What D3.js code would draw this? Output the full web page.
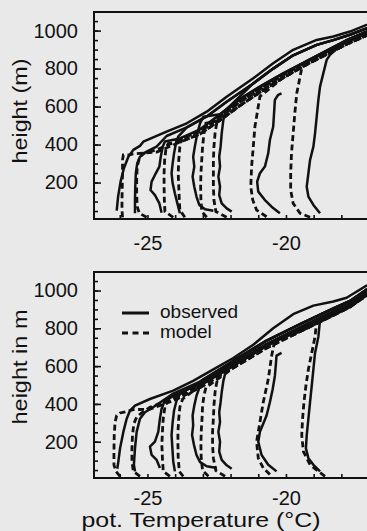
<!DOCTYPE html>
<html>
<head>
<meta charset="utf-8">
<script src="https://d3js.org/d3.v7.min.js"></script>
<style>
body { margin: 0; background: #e9e9e9; }
svg { display: block; }
text { font-family: "Liberation Sans", Arial, sans-serif; fill: #111; }
</style>
</head>
<body>
<script>
var width = 367;
var height = 531;

// axis ticks
var tempTicks = [-26, -25, -24, -23, -22, -21, -20, -19, -18, -17];
var tempLabels = [-25, -20];
var heightTicks = [50, 100, 150, 200, 250, 300, 350, 400, 450, 500, 550, 600, 650, 700, 750, 800, 850, 900, 950, 1000, 1050];
var heightLabels = [200, 400, 600, 800, 1000];

// upper panel: [pot. temperature (degC), height (m)], mixed layer part of each profile
var topObs = [
    [[-26.11,52],[-26.06,126],[-25.97,205],[-25.85,275],[-25.69,336],[-25.51,372],[-25.27,393]],
    [[-25.45,38],[-25.45,108],[-25.44,178],[-25.42,249],[-25.37,301],[-25.27,336],[-25.03,363],[-24.67,389]],
    [[-24.49,41],[-24.57,90],[-24.73,134],[-24.89,161],[-24.85,205],[-24.73,240],[-24.57,284],[-24.52,336],[-24.45,389],[-24.37,416]],
    [[-23.83,38],[-23.92,90],[-24.01,143],[-24.09,196],[-24.13,249],[-24.09,301],[-24.04,354],[-23.97,407],[-23.89,442]],
    [[-22.62,52],[-22.92,59],[-23.13,82],[-23.23,126],[-23.31,178],[-23.37,231],[-23.31,284],[-23.35,336],[-23.29,389],[-23.20,459],[-23.10,512],[-22.98,547]],
    [[-21.96,47],[-22.14,64],[-22.32,90],[-22.41,134],[-22.38,178],[-22.44,231],[-22.38,284],[-22.41,336],[-22.36,389],[-22.32,459],[-22.26,530],[-22.17,582]],
    [[-20.22,38],[-20.52,73],[-20.76,108],[-21.00,152],[-21.04,205],[-20.94,249],[-20.76,284],[-20.64,354],[-20.58,424],[-20.46,495],[-20.43,565],[-20.40,635],[-20.28,662],[-20.16,670]],
    [[-18.77,38],[-19.01,82],[-19.19,126],[-19.25,178],[-19.19,249],[-19.13,319],[-19.01,389],[-18.95,459],[-18.89,547],[-18.83,635],[-18.77,705],[-18.65,776],[-18.53,846],[-18.41,872]]
];
var topObsJoin = ["upper", "band", "band2", "band", "band2", "band", null, "band2"];
var topMod = [
    [[-25.90,17],[-25.92,55],[-25.92,108],[-25.91,178],[-25.90,249],[-25.90,319],[-25.87,345],[-25.69,345],[-25.51,351]],
    [[-25.03,17],[-25.29,38],[-25.37,73],[-25.39,143],[-25.39,213],[-25.37,284],[-25.29,328],[-25.15,354]],
    [[-24.07,17],[-24.37,47],[-24.39,108],[-24.40,178],[-24.40,249],[-24.38,319],[-24.33,380],[-24.25,405]],
    [[-23.65,17],[-23.83,55],[-23.85,108],[-23.87,178],[-23.89,249],[-23.87,319],[-23.83,389],[-23.77,433]],
    [[-22.86,17],[-23.04,47],[-23.07,108],[-23.08,178],[-23.07,249],[-23.04,319],[-23.01,389],[-22.96,459],[-22.89,512]],
    [[-22.14,17],[-22.53,47],[-22.60,108],[-22.62,178],[-22.62,249],[-22.62,319],[-22.60,389],[-22.56,459],[-22.50,512],[-22.44,547]],
    [[-20.70,20],[-21.06,55],[-21.20,108],[-21.27,178],[-21.24,284],[-21.18,389],[-21.12,495],[-21.00,600],[-20.94,653]],
    [[-19.13,17],[-19.49,38],[-19.74,90],[-19.83,161],[-19.83,249],[-19.80,354],[-19.74,459],[-19.68,565],[-19.61,670],[-19.49,758],[-19.43,802]]
];
var topModJoin = ["band2", "band", "band2", "band", "band2", "band", "band2", "band"];
// free atmosphere above the inversion (the thick band)
var topObsUpper = [[-25.15,415],[-24.31,468],[-23.58,512],[-22.86,573],[-22.14,652],[-21.18,749],[-20.46,828],[-19.74,899],[-18.89,951],[-18.29,969],[-17.69,995],[-17.09,1030],[-16.4,1065]];
var topObsBand = [[-24.9,395],[-24.31,445],[-23.58,490],[-22.86,548],[-22.14,625],[-21.18,722],[-20.46,800],[-19.74,870],[-18.89,925],[-18.29,950],[-17.69,978],[-17.09,1012],[-16.4,1048]];
var topObsBand2 = [[-24.67,380],[-23.83,432],[-23.10,480],[-22.38,560],[-21.66,640],[-20.94,705],[-20.10,775],[-19.25,840],[-18.53,895],[-17.81,950],[-17.09,995],[-16.4,1032]];
var topModBand = [[-24.67,372],[-23.83,425],[-23.10,470],[-22.38,545],[-21.66,625],[-20.94,692],[-20.10,768],[-19.25,838],[-18.53,890],[-17.81,942],[-17.09,988],[-16.4,1022]];
var topModBand2 = [[-24.67,360],[-23.83,413],[-23.10,455],[-22.38,528],[-21.66,605],[-20.94,675],[-20.10,752],[-19.25,822],[-18.53,875],[-17.81,928],[-17.09,975],[-16.4,1010]];

// lower panel
var botObs = [
    [[-26.09,57],[-26.05,96],[-25.99,165],[-25.87,252],[-25.75,322],[-25.63,365],[-25.45,391]],
    [[-25.45,43],[-25.49,78],[-25.45,165],[-25.39,252],[-25.27,322],[-25.09,356],[-24.85,377]],
    [[-24.55,61],[-24.67,104],[-24.85,130],[-24.91,174],[-24.73,200],[-24.61,252],[-24.55,322],[-24.49,374],[-24.40,409]],
    [[-24.01,43],[-24.07,96],[-24.10,165],[-24.13,235],[-24.09,304],[-24.04,365],[-23.95,417],[-23.83,452]],
    [[-22.50,61],[-22.86,70],[-23.10,92],[-23.23,130],[-23.32,183],[-23.39,235],[-23.35,287],[-23.37,339],[-23.31,391],[-23.23,443],[-23.10,496],[-22.98,530]],
    [[-21.96,57],[-22.14,75],[-22.32,104],[-22.41,148],[-22.38,200],[-22.44,252],[-22.38,304],[-22.41,356],[-22.36,409],[-22.32,461],[-22.26,522],[-22.17,574]],
    [[-20.34,43],[-20.64,78],[-20.88,130],[-21.00,200],[-20.94,252],[-20.70,339],[-20.58,409],[-20.48,478],[-20.40,548],[-20.36,617],[-20.34,656],[-20.16,670]],
    [[-18.77,43],[-19.01,78],[-19.19,113],[-19.28,165],[-19.25,235],[-19.19,322],[-19.13,409],[-19.07,496],[-19.01,583],[-18.95,670],[-18.83,756],[-18.77,843]]
];
var botObsJoin = ["upper", "band", "band2", "band", "band2", "band", null, "band2"];
var botMod = [
    [[-25.99,17],[-26.14,43],[-26.21,78],[-26.21,148],[-26.20,235],[-26.17,304],[-26.11,339],[-25.99,352],[-25.75,360],[-25.51,370]],
    [[-25.27,17],[-25.51,43],[-25.56,96],[-25.56,165],[-25.54,235],[-25.49,296],[-25.39,330],[-25.21,353]],
    [[-24.19,17],[-24.43,43],[-24.46,113],[-24.48,183],[-24.46,252],[-24.43,322],[-24.37,383],[-24.28,412]],
    [[-23.71,17],[-23.85,43],[-23.89,113],[-23.90,183],[-23.90,252],[-23.87,322],[-23.83,383],[-23.73,426]],
    [[-22.80,17],[-23.01,47],[-23.06,113],[-23.07,183],[-23.06,252],[-23.03,322],[-23.01,391],[-22.96,443],[-22.89,487]],
    [[-22.20,17],[-22.53,47],[-22.62,113],[-22.65,183],[-22.65,252],[-22.62,322],[-22.60,391],[-22.56,461],[-22.50,513],[-22.41,556]],
    [[-20.58,26],[-20.82,61],[-21.00,113],[-21.06,200],[-20.94,304],[-20.82,409],[-20.64,530],[-20.52,652],[-20.40,739]],
    [[-18.59,17],[-18.83,43],[-19.13,78],[-19.37,148],[-19.43,235],[-19.40,322],[-19.35,409],[-19.28,496],[-19.19,583],[-19.07,670],[-18.95,756],[-18.89,843]]
];
var botModJoin = ["band2", "band", "band2", "band", "band2", "band", "band2", "band"];
var botObsUpper = [[-24.91,426],[-24.07,470],[-23.35,522],[-22.62,583],[-21.90,643],[-21.18,713],[-20.46,800],[-19.74,875],[-19.01,920],[-18.29,942],[-17.81,962],[-17.09,1026],[-16.4,1060]];
var botObsBand = [[-24.91,410],[-24.07,455],[-23.10,518],[-21.90,628],[-20.70,735],[-19.49,822],[-18.29,905],[-17.69,945],[-17.09,1005],[-16.4,1040]];
var botObsBand2 = [[-24.91,391],[-24.07,443],[-23.10,506],[-21.90,612],[-20.70,717],[-19.49,805],[-18.29,890],[-17.69,932],[-17.09,995],[-16.4,1030]];
var botModBand = [[-24.91,382],[-24.07,432],[-23.10,497],[-21.90,602],[-20.70,707],[-19.49,795],[-18.29,880],[-17.69,922],[-17.09,985],[-16.4,1020]];
var botModBand2 = [[-24.91,372],[-24.07,417],[-23.10,487],[-21.90,591],[-20.70,696],[-19.49,783],[-18.29,869],[-17.69,913],[-17.09,974],[-16.4,1010]];

var panels = [
    {top: 12, h: 207, obs: topObs, obsJoin: topObsJoin, mod: topMod, modJoin: topModJoin,
        obsEnv: {upper: topObsUpper, band: topObsBand, band2: topObsBand2},
        modEnv: {band: topModBand, band2: topModBand2},
        title: "height (m)", titleY: 111, titleLen: 105, labelPad: 17},
    {top: 272, h: 206, obs: botObs, obsJoin: botObsJoin, mod: botMod, modJoin: botModJoin,
        obsEnv: {upper: botObsUpper, band: botObsBand, band2: botObsBand2},
        modEnv: {band: botModBand, band2: botModBand2},
        title: "height in m", titleY: 367, titleLen: 115, labelPad: 13}
];

var left = 94;
var svg = d3.select("body").append("svg").attr("width", width).attr("height", height);

var x = d3.scaleLinear().domain([-26.93, -16]).range([left, left + 10.93 * 27.7]);

// mixed layer part, carried on up along its free atmosphere curve
function fullProfile(bl, env) {
    if (!env) return bl;
    var last = bl[bl.length - 1];
    return bl.concat(env.filter(function (p) {
        return p[0] > last[0] + 0.05 && p[1] > last[1];
    }));
}

panels.forEach(function (p, k) {
    var bottom = p.top + p.h;
    var y = d3.scaleLinear().domain([8, 1098]).range([bottom, p.top]);
    var g = svg.append("g");

    g.append("clipPath").attr("id", "clip" + k)
        .append("rect").attr("x", left).attr("y", p.top).attr("width", width - left).attr("height", p.h);

    var line = d3.line().x(function (d) { return x(d[0]); }).y(function (d) { return y(d[1]); });
    var plot = g.append("g").attr("clip-path", "url(#clip" + k + ")");

    plot.selectAll("path.mod")
        .data(p.mod.map(function (d, i) { return fullProfile(d, p.modEnv[p.modJoin[i]]); }))
        .enter().append("path")
        .attr("class", "mod")
        .attr("d", line)
        .attr("fill", "none")
        .attr("stroke", "#111")
        .attr("stroke-width", 2.8)
        .attr("stroke-dasharray", "6,3.5");

    plot.selectAll("path.obs")
        .data(p.obs.map(function (d, i) { return fullProfile(d, p.obsEnv[p.obsJoin[i]]); }))
        .enter().append("path")
        .attr("class", "obs")
        .attr("d", line)
        .attr("fill", "none")
        .attr("stroke", "#111")
        .attr("stroke-width", 2.5)
        .attr("stroke-linejoin", "round");

    // ticks
    var minor = g.append("g").attr("transform", "translate(" + left + ",0)")
        .call(d3.axisLeft(y).tickValues(heightTicks).tickSize(-4).tickFormat(""));
    var major = g.append("g").attr("transform", "translate(" + left + ",0)")
        .call(d3.axisLeft(y).tickValues(heightLabels).tickSize(-7).tickPadding(16).tickFormat(d3.format("d")));
    var xt = g.append("g").attr("transform", "translate(0," + bottom + ")")
        .call(d3.axisBottom(x).tickValues(tempTicks).tickSize(-4).tickFormat(""));
    var xl = g.append("g").attr("transform", "translate(0," + bottom + ")")
        .call(d3.axisBottom(x).tickValues(tempLabels).tickSize(0).tickPadding(p.labelPad)
            .tickFormat(function (d) { return "-" + Math.abs(d); }));
    [minor, major, xt, xl].forEach(function (a) {
        a.select(".domain").remove();
        a.selectAll("line").attr("stroke", "#111").attr("stroke-width", 1.6);
        a.selectAll("text").attr("font-size", 20).attr("font-family", null).attr("fill", "#111");
    });

    // frame
    g.append("path")
        .attr("d", "M" + width + "," + p.top + "H" + left + "V" + bottom + "H" + width)
        .attr("fill", "none")
        .attr("stroke", "#111")
        .attr("stroke-width", 2);

    g.append("text")
        .attr("transform", "translate(27," + p.titleY + ") rotate(-90)")
        .attr("text-anchor", "middle")
        .attr("font-size", 20)
        .attr("textLength", p.titleLen)
        .attr("lengthAdjust", "spacingAndGlyphs")
        .text(p.title);
});

// legend
var legend = svg.append("g");
legend.append("line").attr("x1", 122).attr("x2", 149).attr("y1", 313).attr("y2", 313)
    .attr("stroke", "#111").attr("stroke-width", 3);
legend.append("line").attr("x1", 122).attr("x2", 149).attr("y1", 333).attr("y2", 333)
    .attr("stroke", "#111").attr("stroke-width", 3).attr("stroke-dasharray", "6,4.5");
legend.append("text").attr("x", 160).attr("y", 318).attr("font-size", 19).text("observed");
legend.append("text").attr("x", 160).attr("y", 338).attr("font-size", 19).text("model");

svg.append("text")
    .attr("x", 201).attr("y", 527)
    .attr("text-anchor", "middle")
    .attr("font-size", 20)
    .attr("textLength", 239)
    .attr("lengthAdjust", "spacingAndGlyphs")
    .text("pot. Temperature (°C)");
</script>
</body>
</html>
